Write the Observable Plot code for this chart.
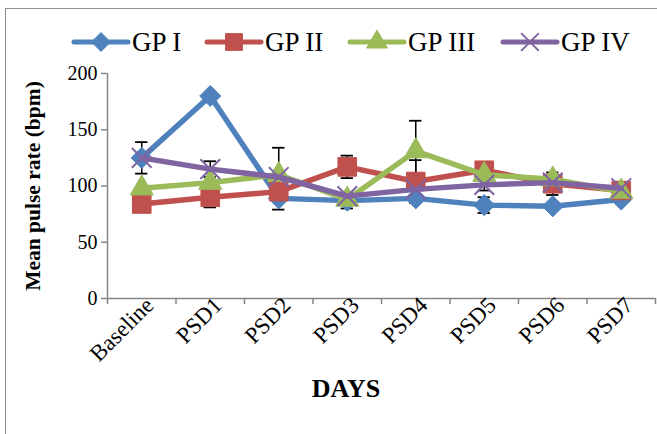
<!DOCTYPE html>
<html>
<head>
<meta charset="utf-8">
<script src="https://cdn.jsdelivr.net/npm/d3@7"></script>
<script src="https://cdn.jsdelivr.net/npm/@observablehq/plot@0.6"></script>
<style>
  html, body { margin: 0; padding: 0; background: #fff; }
  #wrap { position: relative; width: 657px; height: 434px; overflow: hidden; font-family: "Liberation Serif", "Times New Roman", serif; }
  #border { position: absolute; left: 5px; top: 8px; width: 720px; height: 520px; border: 1.5px solid #8c8c8c; box-sizing: border-box; }
  #chart { position: absolute; left: 0; top: 0; }
  #legend { position: absolute; left: 0; top: 0; }
  .title { position: absolute; font-weight: bold; color: #000; white-space: nowrap; }
  #ytitle { left: 33px; top: 186px; font-size: 21.5px; transform: translate(-50%, -50%) rotate(-90deg); }
  #xtitle { left: 346px; top: 389px; font-size: 26px; transform: translate(-50%, -50%); }
</style>
</head>
<body>
<div id="wrap">
  <div id="border"></div>
  <div id="chart"></div>
  <svg id="legend" width="657" height="70"></svg>
  <div class="title" id="ytitle">Mean pulse rate (bpm)</div>
  <div class="title" id="xtitle">DAYS</div>
</div>
<script>
// ---- data ----
const days = ["Baseline", "PSD1", "PSD2", "PSD3", "PSD4", "PSD5", "PSD6", "PSD7"];
const seriesNames = ["GP I", "GP II", "GP III", "GP IV"];
const gp1 = [125, 180, 89, 87, 89, 83, 82, 88];
const gp2 = [84, 90, 95, 117, 104, 114, 102, 96];
const gp3 = [98, 103, 110, 88, 131, 110, 106, 95];
const gp4 = [125, 115, 108, 91, 97, 101, 103, 98];
const sd1 = [14, 0, 10, 7, 0, 7, 0, 0];
const sd2 = [0, 9, 0, 10, 19, 0, 10, 0];
const sd3 = [0, 0, 24, 0, 27, 0, 0, 0];
const sd4 = [0, 7, 0, 0, 0, 5, 0, 0];
const yTicks = [0, 50, 100, 150, 200];

// ---- styles ----
const colors = ["#4F81BD", "#C0504D", "#9BBB59", "#8064A2"];
const symbols = ["diamond2", "square", "triangle", "times"];
const radii = [9.5, 10.5, 8.6, 9];

const values = [gp1, gp2, gp3, gp4];
const sds = [sd1, sd2, sd3, sd4];
const rows = [];
seriesNames.forEach((s, k) => days.forEach((d, i) => rows.push({s, k, i, v: values[k][i], sd: sds[k][i]})));
const errRows = rows.filter(d => d.sd > 0);
const idx = days.map((d, i) => i);
const bounds = d3.range(days.length + 1).map(i => i - 0.5);
const axisGray = "#868686";
const capHalf = 0.09;

const marks = [
  // error bars (below lines)
  Plot.ruleX(errRows, {x: "i", y1: d => d.v - d.sd, y2: d => d.v + d.sd, stroke: "#000", strokeWidth: 1.5}),
  Plot.ruleY(errRows, {y: d => d.v + d.sd, x1: d => d.i - capHalf, x2: d => d.i + capHalf, stroke: "#000", strokeWidth: 1.8}),
  Plot.ruleY(errRows, {y: d => d.v - d.sd, x1: d => d.i - capHalf, x2: d => d.i + capHalf, stroke: "#000", strokeWidth: 1.8}),
];
seriesNames.forEach((s, k) => {
  const data = rows.filter(d => d.k === k);
  marks.push(Plot.line(data, {x: "i", y: "v", stroke: colors[k], strokeWidth: 5.5, strokeLinejoin: "round", strokeLinecap: "round"}));
  if (symbols[k] === "times") {
    marks.push(Plot.dot(data, {x: "i", y: "v", symbol: "times", r: radii[k], stroke: colors[k], strokeWidth: 2}));
  } else {
    marks.push(Plot.dot(data, {x: "i", y: "v", symbol: symbols[k], r: radii[k], fill: colors[k], stroke: colors[k], strokeWidth: 1}));
  }
});
marks.push(
  Plot.ruleX([-0.5], {stroke: axisGray, strokeWidth: 1.5}),
  Plot.ruleY([0], {stroke: axisGray, strokeWidth: 1.5}),
  Plot.axisY(yTicks, {tickSize: 6, tickPadding: 4, stroke: axisGray, strokeWidth: 1.5, fill: "#000", fontSize: 20, label: null}),
  Plot.axisX(bounds, {tickSize: 6, stroke: axisGray, strokeWidth: 1.5, tickFormat: () => "", label: null}),
  Plot.axisX(idx, {tickSize: 0, tickPadding: 3, tickRotate: -45, tickFormat: i => days[i], fill: "#000", fontSize: 23, dx: 8, label: null})
);

const chart = Plot.plot({
  width: 657,
  height: 434,
  marginLeft: 107,
  marginRight: 2,
  marginTop: 73,
  marginBottom: 136,
  x: {type: "linear", domain: [-0.5, 7.5], axis: null},
  y: {domain: [0, 200], axis: null},
  style: {fontFamily: "'Liberation Serif', 'Times New Roman', serif", background: "transparent", overflow: "visible"},
  marks
});
document.getElementById("chart").appendChild(chart);

// ---- legend ----
const leg = d3.select("#legend");
const legendX = [74, 207, 350, 503];
const legendY = 42;
seriesNames.forEach((s, k) => {
  const g = leg.append("g").attr("transform", `translate(${legendX[k]},${legendY})`);
  g.append("line").attr("x1", 0).attr("x2", 54).attr("y1", 0).attr("y2", 0)
    .attr("stroke", colors[k]).attr("stroke-width", 5).attr("stroke-linecap", "round");
  const typeMap = {diamond2: d3.symbolDiamond2, square: d3.symbolSquare, triangle: d3.symbolTriangle, times: d3.symbolTimes};
  const rr = radii[k] * 0.9;
  const size = Math.PI * rr * rr;
  const p = g.append("path").attr("transform", "translate(27,0)").attr("d", d3.symbol(typeMap[symbols[k]], size)());
  if (symbols[k] === "times") p.attr("fill", "none").attr("stroke", colors[k]).attr("stroke-width", 2);
  else p.attr("fill", colors[k]).attr("stroke", colors[k]);
  g.append("text").attr("x", 58).attr("y", 0).attr("dy", "0.35em")
    .attr("font-family", "'Liberation Serif', 'Times New Roman', serif").attr("font-size", 27).attr("fill", "#000")
    .text(s);
});
</script>
</body>
</html>
